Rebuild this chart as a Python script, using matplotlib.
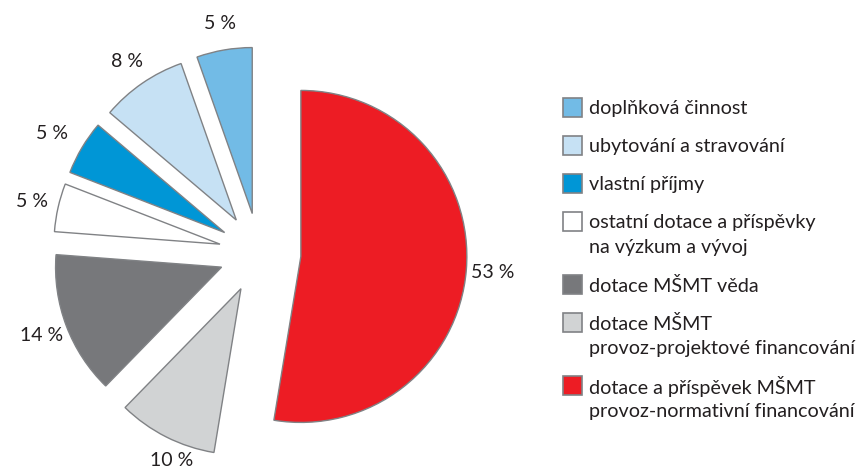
import matplotlib
matplotlib.use('Agg')
import matplotlib.pyplot as plt
from matplotlib.patches import Rectangle

plt.rcParams['font.family'] = ['Lato', 'DejaVu Sans']

# slices in clockwise order starting at 12 o'clock
shares = [52.6, 9.7, 13.9, 4.7, 5.3, 8.4, 5.4]
colors = ['#ed1c24', '#d1d3d4', '#77787b', '#ffffff', '#0096d6', '#c6e1f4', '#72bbe6']
legend_labels = [
    'dotace a příspěvek MŠMT\nprovoz-normativní financování',
    'dotace MŠMT\nprovoz-projektové financování',
    'dotace MŠMT věda',
    'ostatní dotace a příspěvky\nna výzkum a vývoj',
    'vlastní příjmy',
    'ubytování a stravování',
    'doplňková činnost',
]

text_color = '#231f20'
edge_color = '#808285'

W, H = 858, 468
fig = plt.figure(figsize=(W / 100, H / 100), dpi=100)
ax = fig.add_axes([0, 0, 1, 1])

# pie drawn in pixel-like data units (y up)
center = (259, H - 253)
radius = 166
explode = [42] + [40] * (len(shares) - 1)

wedges, texts, autotexts = ax.pie(
    shares, colors=colors, explode=explode, center=center, radius=radius,
    startangle=90, counterclock=False,
    autopct=lambda p: '%.0f %%' % p, pctdistance=1.16,
    wedgeprops=dict(edgecolor=edge_color, linewidth=1.0),
    textprops=dict(color=text_color, fontsize=14))

# small nudges of a few percentage labels
label_dx = {1: 18, 4: -7}
for i, dx in label_dx.items():
    x0, y0 = autotexts[i].get_position()
    autotexts[i].set_position((x0 + dx, y0))

# legend, top to bottom in reverse slice order
x_box, x_txt = 563, 589
box = 19
y = 107            # centre of first text line, image pixels from top
line_pitch = 25
entry_gap = 38
for lab, col in zip(legend_labels[::-1], colors[::-1]):
    lines = lab.split('\n')
    ax.add_patch(Rectangle((x_box, H - y - box / 2), box, box, facecolor=col,
                           edgecolor=edge_color, linewidth=1.2))
    for i, ln in enumerate(lines):
        ax.text(x_txt, H - (y + i * line_pitch), ln, fontsize=14.2, color=text_color,
                ha='left', va='center_baseline')
    y += (len(lines) - 1) * line_pitch + entry_gap

ax.set_xlim(0, W)
ax.set_ylim(0, H)
ax.set_aspect('equal')
ax.axis('off')

fig.savefig('out.png', dpi=100)
